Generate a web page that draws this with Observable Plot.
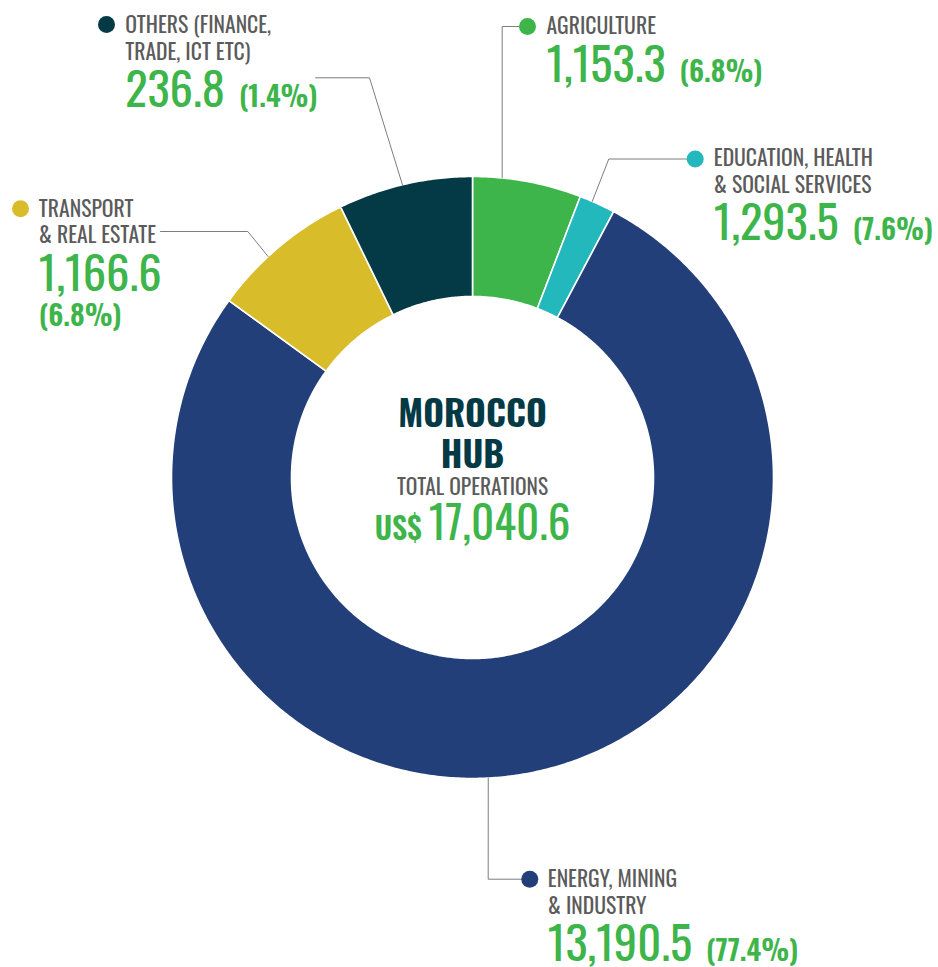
<!DOCTYPE html>
<html><head><meta charset="utf-8">
<script src="https://cdn.jsdelivr.net/npm/d3@7"></script>
<script src="https://cdn.jsdelivr.net/npm/@observablehq/plot@0.6"></script>
<style>
html,body{margin:0;padding:0;background:#fff;}
#chart svg{display:block;}
</style></head><body><div id="chart"></div>
<script>
// ---- data ----
const sectors = ["AGRICULTURE", "EDUCATION, HEALTH\n& SOCIAL SERVICES", "ENERGY, MINING\n& INDUSTRY", "TRANSPORT\n& REAL ESTATE", "OTHERS (FINANCE,\nTRADE, ICT ETC)"];
const amounts = ["1,153.3", "1,293.5", "13,190.5", "1,166.6", "236.8"];
const shares = ["(6.8%)", "(7.6%)", "(77.4%)", "(6.8%)", "(1.4%)"];
// ring share of each slice as drawn in the picture (%)
const sliceShares = [5.83, 1.94, 77.23, 7.78, 7.22];
const colors = ["#3db54a", "#22b8bc", "#223f79", "#d8bc2a", "#033a45"];
const hubTitle = ["MOROCCO", "HUB"];
const totalLabel = "TOTAL OPERATIONS";
const currency = "US$";
const totalAmount = "17,040.6";

// ---- layout / style ----
const W = 938, H = 967;
const cx = 472, cy = 477, R0 = 181, R1 = 301;
const FONT = 'Oswald, "Roboto Condensed", sans-serif';
const GREEN = "#3db54a", GREY = "#5b5b5b", DARK = "#033a45";
const SZ = {label: 21.7, amount: 46.5, pct: 28.5, hub: 35.5, tot: 21.5, cur: 30, total: 45};
const WT = {label: 400, amount: 400, pct: 600, hub: 700, tot: 400, cur: 600, total: 400};
const labelLayout = [
  {x: 546,   y: 33.3,  numY: 81.7,  pctY: null, dot: [527, 26],      leader: {angle: 5.66,   pts: [[501.7, 26], [527, 26]]}},
  {x: 713.3, y: 165.7, numY: 239.3, pctY: null, dot: [694.7, 158.5], leader: {angle: 23.45,  pts: [[608.3, 158.5], [694.7, 158.5]]}},
  {x: 547.3, y: 886.7, numY: 960,   pctY: null, dot: [529.3, 878.7], leader: {angle: 177.0,  pts: [[487.7, 878.7], [529.3, 878.7]]}},
  {x: 38.3,  y: 216,   numY: 290.7, pctY: 325,  dot: [20, 208.3],    leader: {angle: 317.24, pts: [[247.3, 231], [160, 231]]}},
  {x: 124.7, y: 32.3,  numY: 106,   pctY: null, dot: [106, 24],      leader: {angle: 346.54, pts: [[369, 77.3], [315, 77.3]]}}
];
const lineGap = 26.7, pctGap = 14;

const cv = document.createElement("canvas").getContext("2d");
const measure = (t, size, weight) => { cv.font = `${weight} ${size}px ${FONT}`; return cv.measureText(t).width; };

const rad = d => d * Math.PI / 180;
const polar = (deg, rr) => ({x: cx + rr * Math.sin(rad(deg)), y: cy - rr * Math.cos(rad(deg))});

// slices (angles from the shares)
const sumShares = d3.sum(sliceShares);
const cum = d3.cumsum(sliceShares);
const slices = sliceShares.map((v, i) => {
  const a0 = (cum[i] - v) / sumShares * 360, a1 = cum[i] / sumShares * 360;
  const n = Math.max(8, Math.ceil((a1 - a0) / 0.5));
  const angs = d3.range(n + 1).map(k => a0 + (a1 - a0) * k / n);
  const pts = [...angs.map(a => polar(a, R1)), ...angs.slice().reverse().map(a => polar(a, R0))];
  return {i, pts};
});

const leaders = labelLayout.map(L => [polar(L.leader.angle, R1), ...L.leader.pts.map(([x, y]) => ({x, y}))]);

const labelRows = sectors.flatMap((s, i) => s.split("\n").map((t, j) => ({t, x: labelLayout[i].x, y: labelLayout[i].y + j * lineGap})));
const numRows = amounts.map((t, i) => ({t, x: labelLayout[i].x, y: labelLayout[i].numY}));
const pctRows = shares.map((t, i) => {
  const L = labelLayout[i];
  return L.pctY != null ? {t, x: L.x, y: L.pctY}
    : {t, x: L.x + measure(amounts[i], SZ.amount, WT.amount) + pctGap, y: L.numY};
});
const dots = labelLayout.map((L, i) => ({x: L.dot[0], y: L.dot[1], c: colors[i]}));

const hubRows = hubTitle.map((t, j) => ({t, y: 426.7 + j * 40.6}));
const curW = measure(currency, SZ.cur, WT.cur), totW = measure(totalAmount, SZ.total, WT.total), curGap = 7;
const x0 = cx - (curW + curGap + totW) / 2;

const chart = Plot.plot({
  width: W, height: H,
  margin: 0,
  x: {domain: [0, W], range: [0, W], axis: null},
  y: {domain: [0, H], range: [0, H], axis: null},
  style: {fontFamily: FONT, background: "#fff"},
  marks: [
    ...slices.map(s => Plot.line(s.pts, {x: "x", y: "y", curve: "linear-closed", fill: colors[s.i], stroke: "#fff", strokeWidth: 1.6})),
    ...leaders.map(l => Plot.line(l, {x: "x", y: "y", stroke: "#7d7d7d", strokeWidth: 1})),
    Plot.dot(dots, {x: "x", y: "y", r: 8.5, fill: "c", stroke: null}),
    Plot.text(labelRows, {x: "x", y: "y", text: "t", textAnchor: "start", lineAnchor: "bottom", fontSize: SZ.label, fontWeight: WT.label, fill: GREY}),
    Plot.text(numRows, {x: "x", y: "y", text: "t", textAnchor: "start", lineAnchor: "bottom", fontSize: SZ.amount, fontWeight: WT.amount, fill: GREEN}),
    Plot.text(pctRows, {x: "x", y: "y", text: "t", textAnchor: "start", lineAnchor: "bottom", fontSize: SZ.pct, fontWeight: WT.pct, fill: GREEN}),
    Plot.text(hubRows, {x: () => cx, y: "y", text: "t", textAnchor: "middle", lineAnchor: "bottom", fontSize: SZ.hub, fontWeight: WT.hub, fill: DARK}),
    Plot.text([totalLabel], {x: () => cx, y: () => 494, text: d => d, textAnchor: "middle", lineAnchor: "bottom", fontSize: SZ.tot, fontWeight: WT.tot, fill: GREY}),
    Plot.text([currency], {x: () => x0, y: () => 539.3, text: d => d, textAnchor: "start", lineAnchor: "bottom", fontSize: SZ.cur, fontWeight: WT.cur, fill: GREEN}),
    Plot.text([totalAmount], {x: () => x0 + curW + curGap, y: () => 539.3, text: d => d, textAnchor: "start", lineAnchor: "bottom", fontSize: SZ.total, fontWeight: WT.total, fill: GREEN})
  ]
});
document.getElementById("chart").appendChild(chart);
</script></body></html>
